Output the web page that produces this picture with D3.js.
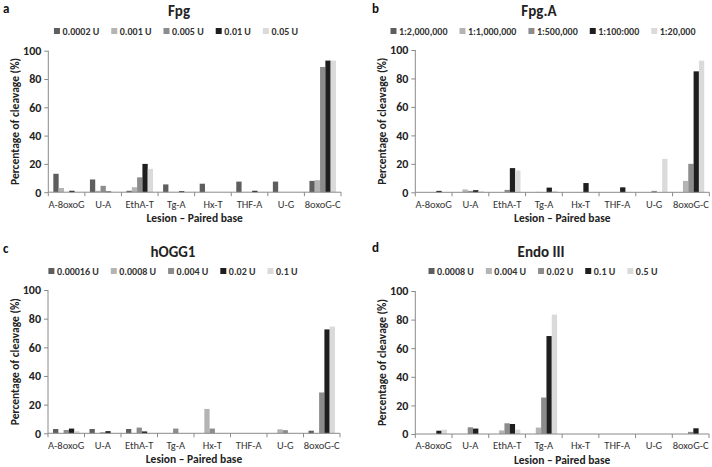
<!DOCTYPE html>
<html><head><meta charset="utf-8">
<script src="https://cdn.jsdelivr.net/npm/d3@7"></script>
<style>
body{margin:0;background:#fff;}
svg{display:block;font-family:Carlito, Lato, "Liberation Sans", sans-serif;}
</style></head>
<body><svg id="c" width="712" height="467"></svg>
<script>
const categories = ["A-8oxoG","U-A","EthA-T","Tg-A","Hx-T","THF-A","U-G","8oxoG-C"];
const yTicks = [0,20,40,60,80,100];
const seriesColors = ["#5e5e5e","#b4b4b4","#8c8c8c","#1e1e1e","#dadada"];

// Panel a: Fpg
const fpgLabels = ["0.0002 U","0.001 U","0.005 U","0.01 U","0.05 U"];
const fpg_0002 = [13, 9, 1, 5.5, 6, 7.5, 7.5, 8];
const fpg_001  = [3, 1, 3.5, 0, 0, 0, 0, 8.5];
const fpg_005  = [0, 4.5, 10.5, 0, 0, 0, 0, 88.5];
const fpg_01   = [1, 0.5, 20, 0.7, 0, 1, 0, 93];
const fpg_05   = [0, 0, 16.5, 0, 0, 0, 0, 93];

// Panel b: Fpg.A
const fpgALabels = ["1:2,000,000","1:1,000,000","1:500,000","1:100:000","1:20,000"];
const fpgA_2000000 = [0, 0, 0, 0, 0, 0, 0, 0];
const fpgA_1000000 = [0, 2, 0, 0.3, 0, 0, 0, 8];
const fpgA_500000  = [0, 1, 1.7, 0, 0, 0, 1, 20];
const fpgA_100000  = [1, 1.5, 17, 3.3, 6.5, 3.5, 0, 85];
const fpgA_20000   = [0, 0.8, 15.3, 1, 0, 0, 23.5, 92.5];

// Panel c: hOGG1
const hoggLabels = ["0.00016 U","0.0008 U","0.004 U","0.02 U","0.1 U"];
const hogg_00016 = [3, 3, 3, 0, 0, 0, 0, 1.8];
const hogg_0008  = [0, 0, 0, 0, 17, 0, 2.8, 0];
const hogg_004   = [2.3, 0.7, 4, 3.3, 3.3, 0, 2.2, 28.5];
const hogg_02    = [3.3, 1.5, 1.3, 0, 0, 0, 0, 72.5];
const hogg_1     = [1.5, 0, 0, 0, 0, 0, 0, 74.5];

// Panel d: Endo III
const endoLabels = ["0.0008 U","0.004 U","0.02 U","0.1 U","0.5 U"];
const endo_0008 = [0, 0, 0, 0, 0, 0, 0, 0];
const endo_004  = [0, 0, 2.5, 4.5, 0, 0, 0, 0];
const endo_02   = [0, 4.7, 7.5, 25.5, 0, 0, 0, 1.5];
const endo_1    = [2.3, 3.8, 7, 68.5, 0, 0, 0, 4];
const endo_5    = [3, 0, 3, 83.5, 0, 0, 0, 0];

const panels = [
  {letter:"a", title:"Fpg", labels:fpgLabels, series:[fpg_0002,fpg_001,fpg_005,fpg_01,fpg_05],
   x0:48.3, x1:341, yTop:50.7, yBot:192.2, lx:3, ly:12.5, titleY:16, legY:34.5, legCx:176, titleCx:179, yTitleX:15},
  {letter:"b", title:"Fpg.A", labels:fpgALabels, series:[fpgA_2000000,fpgA_1000000,fpgA_500000,fpgA_100000,fpgA_20000],
   x0:415.3, x1:709.3, yTop:50, yBot:192.3, lx:372, ly:12.5, titleY:16, legY:34.5, legCx:543, titleCx:539, yTitleX:382},
  {letter:"c", title:"hOGG1", labels:hoggLabels, series:[hogg_00016,hogg_0008,hogg_004,hogg_02,hogg_1],
   x0:48, x1:340, yTop:290, yBot:433.3, lx:3, ly:253, titleY:256.5, legY:274.5, legCx:173, titleCx:173, yTitleX:15},
  {letter:"d", title:"Endo III", labels:endoLabels, series:[endo_0008,endo_004,endo_02,endo_1,endo_5],
   x0:415.3, x1:709, yTop:291, yBot:434, lx:372, ly:252, titleY:256.5, legY:274.5, legCx:543, titleCx:541, yTitleX:382}
];

const svg = d3.select("#c");
const axisColor = "#8a8a8a";
const FF = "Carlito, Lato, 'Liberation Sans', sans-serif";

panels.forEach(p => {
  const g = svg.append("g");
  const x = d3.scaleBand().domain(categories).range([p.x0, p.x1]).padding(0);
  const inner = d3.scaleBand().domain(d3.range(5)).range([0, x.bandwidth()]).paddingOuter(0.95).paddingInner(0);
  const y = d3.scaleLinear().domain([0,100]).range([p.yBot, p.yTop]);

  // bars
  p.series.forEach((vals, si) => {
    g.append("g").selectAll("rect").data(vals).join("rect")
      .attr("x", (d,i) => x(categories[i]) + inner(si))
      .attr("width", inner.bandwidth())
      .attr("y", d => y(d))
      .attr("height", d => y(0) - y(d))
      .attr("fill", seriesColors[si]);
  });

  // y axis
  const ya = g.append("g").attr("transform", `translate(${p.x0},0)`)
    .call(d3.axisLeft(y).tickValues(yTicks).tickSize(4).tickPadding(3));
  ya.select(".domain").attr("stroke", axisColor).attr("d", `M0,${p.yBot}V${p.yTop}`);
  ya.selectAll(".tick line").attr("stroke", axisColor);
  ya.selectAll(".tick text").attr("font-size", 12).attr("font-weight", "bold").attr("fill", "#222")
    .attr("font-family", FF);

  // x axis
  const xa = g.append("g").attr("transform", `translate(0,${p.yBot})`)
    .call(d3.axisBottom(x).tickSize(0).tickPadding(8));
  xa.select(".domain").attr("stroke", axisColor).attr("d", `M${p.x0},0H${p.x1}`);
  xa.selectAll(".tick text").attr("font-size", 10.5).attr("fill", "#333")
    .attr("font-family", FF);
  // category separator ticks
  const bounds = categories.map(c => x(c)).concat([p.x1]);
  xa.append("g").selectAll("line").data(bounds).join("line")
    .attr("x1", d => d).attr("x2", d => d).attr("y1", 0).attr("y2", 4)
    .attr("stroke", axisColor);

  // axis titles
  g.append("text").attr("x", (p.x0+p.x1)/2).attr("y", p.yBot + 29.5)
    .attr("text-anchor","middle").attr("font-size", 11.5).attr("font-weight","bold").attr("fill","#222")
    .text("Lesion – Paired base");
  g.append("text").attr("transform", `translate(${p.yTitleX},${(p.yTop+p.yBot)/2}) rotate(-90)`)
    .attr("text-anchor","middle").attr("dy","0.35em").attr("font-size", 11.5).attr("font-weight","bold").attr("fill","#222")
    .text("Percentage of cleavage (%)");

  // panel letter & title
  g.append("text").attr("x", p.lx).attr("y", p.ly).attr("font-size", 13).attr("font-weight","bold").attr("fill","#111")
    .text(p.letter);
  g.append("text").attr("x", p.titleCx).attr("y", p.titleY).attr("text-anchor","middle")
    .attr("font-size", 15).attr("font-weight","bold").attr("fill","#222").text(p.title);

  // legend
  const lg = g.append("g");
  const items = lg.selectAll("g").data(p.labels).join("g");
  items.append("rect").attr("width", 6).attr("height", 6).attr("y", -6.5)
    .attr("fill", (d,i) => seriesColors[i]);
  items.append("text").attr("x", 8.5).attr("y", 0).attr("font-size", 10).attr("font-weight","bold").attr("fill","#333")
    .text(d => d);
  let cx = 0;
  const gap = 12;
  items.each(function(){
    const w = 8.5 + this.querySelector("text").getComputedTextLength();
    d3.select(this).attr("transform", `translate(${cx},0)`);
    cx += w + gap;
  });
  const total = cx - gap;
  lg.attr("transform", `translate(${p.legCx - total/2},${p.legY})`);
});
</script></body></html>
